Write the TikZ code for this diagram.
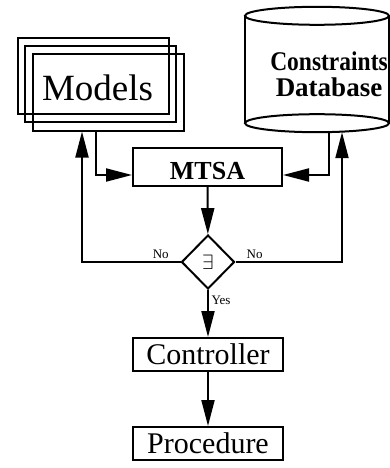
\documentclass[tikz,border=0pt]{standalone}
\usepackage{fontspec}
\setmainfont{Liberation Serif}
\usetikzlibrary{arrows.meta,shapes.geometric}
\tikzset{
  box/.style={draw, line width=2pt, inner sep=0pt},
  arr/.style={line width=2pt, -{Triangle[length=26pt,width=13pt]}},
  lbl/.style={font=\fontsize{13}{14}\selectfont, inner sep=2.5pt},
}
\begin{document}
\begin{tikzpicture}[x=1pt,y=-1pt] %[scale=0.8]
    \useasboundingbox (0,0) rectangle (390,468);
    \node[box, minimum width=151pt, minimum height=76pt] (m1) at (93,76) {};
    \node[box, minimum width=151pt, minimum height=76pt] (m2) at (100.5,84) {};
    \node[box, minimum width=151pt, minimum height=76pt] (m3) at (108.5,92.5) {};
    \node[font=\fontsize{37}{40}\selectfont] (models) at (97.5,87.5) {Models};
    \node[minimum width=144pt, minimum height=107pt] (db) at (317,69.5) {};
    \draw[line width=2pt] (db.north) ellipse [x radius=72, y radius=9];
    \draw[line width=2pt] (db.south) ellipse [x radius=72, y radius=9];
    \draw[line width=2pt] (db.north west) -- (db.south west);
    \draw[line width=2pt] (db.north east) -- (db.south east);
    \node[align=center, font=\bfseries\fontsize{27}{26}\selectfont] (dbtext) at (329,74.5)
      {\scalebox{0.87}[1]{Constraints}\\Database};
    \node[box, minimum width=149pt, minimum height=38pt, text height=24pt, text depth=0pt,
      font=\bfseries\fontsize{26}{28}\selectfont] (mtsa) at (207.5,167) {MTSA};
    \node[box, diamond, minimum width=53pt, minimum height=54pt,
      font=\fontsize{20}{20}\selectfont] (dia) at (208,262) {$\exists$};
    \node[box, minimum width=150pt, minimum height=33pt,
      font=\fontsize{30}{32}\selectfont] (ctrl) at (208,354.5) {Controller};
    \node[box, minimum width=150pt, minimum height=33pt,
      font=\fontsize{30}{32}\selectfont] (proc) at (208,443.5) {Procedure};
    \draw [arr] ([xshift=64pt]m3.south west) |- ([yshift=-8pt]mtsa.west);
    \draw [arr] ([xshift=12pt,yshift=-9pt]db.south) |- ([yshift=-8pt]mtsa.east);
    \draw [arr] (mtsa) -- (dia);
    \draw [arr] (dia.west) -| node[lbl, above, pos=0.1] {No} ([xshift=50pt]m3.south west);
    \draw [arr] (dia.east) -| node[lbl, above, pos=0.09] {No} ([xshift=25pt,yshift=-9pt]db.south);
    \draw [arr] (dia) -- node[lbl, right, pos=0.22] {Yes} (ctrl);
    \draw [arr] (ctrl) -- (proc);
  \end{tikzpicture}
\end{document}
